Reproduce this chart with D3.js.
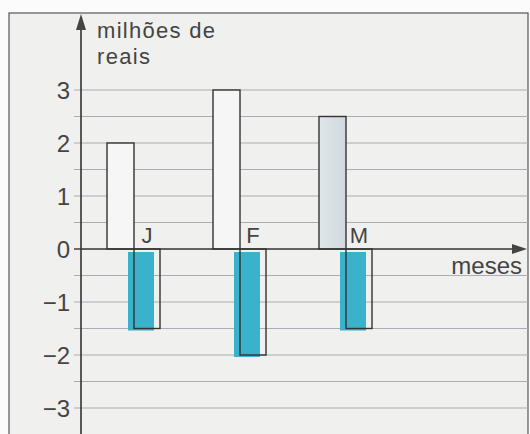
<!DOCTYPE html>
<html>
<head>
<meta charset="utf-8">
<script src="https://cdn.jsdelivr.net/npm/d3@7"></script>
<style>
  body { margin: 0; background: #fbfbfb; }
  text { font-family: "Liberation Sans", Arial, sans-serif; fill: #444; }
</style>
</head>
<body>
<script>
"use strict"

const months = ["J", "F", "M"];
const receitas = [2, 3, 2.5];
const despesas = [-1.5, -2, -1.5];
const tickValues = [-3, -2, -1, 0, 1, 2, 3];
const gridValues = [-3, -2.5, -2, -1.5, -1, -0.5, 0.5, 1, 1.5, 2, 2.5, 3];

const width = 530;
const height = 434;
const barWidth = 27;
const blueShift = 6;

const svg = d3.select("body").append("svg")
    .attr("width", width)
    .attr("height", height);

const defs = svg.append("defs");
const grad = defs.append("linearGradient").attr("id", "mgrad");
grad.append("stop").attr("offset", "0%").attr("stop-color", "#dfe6ea");
grad.append("stop").attr("offset", "100%").attr("stop-color", "#d2d9de");

// moldura
svg.append("rect")
    .attr("x", 9).attr("y", 13)
    .attr("width", 519).attr("height", 430)
    .attr("fill", "#f0f0ee")
    .attr("stroke", "#555")
    .attr("stroke-width", 1.2);

const y = d3.scaleLinear().domain([-3, 3]).range([408, 90]);
const x = d3.scalePoint().domain(months).range([134, 346]);
const axisX = 81;

// linhas de grade
svg.selectAll(".grid")
    .data(gridValues)
    .enter()
    .append("line")
        .attr("class", "grid")
        .attr("x1", axisX - 7)
        .attr("x2", 528)
        .attr("y1", d => y(d))
        .attr("y2", d => y(d))
        .attr("stroke", "#acacb4")
        .attr("stroke-width", 1);

// barras positivas
svg.selectAll(".pos")
    .data(months)
    .enter()
    .append("rect")
        .attr("class", "pos")
        .attr("x", d => x(d) - barWidth)
        .attr("y", (d, i) => y(receitas[i]))
        .attr("width", barWidth)
        .attr("height", (d, i) => y(0) - y(receitas[i]))
        .attr("fill", (d, i) => i == 2 ? "url(#mgrad)" : "#f6f6f6")
        .attr("stroke", "#333")
        .attr("stroke-width", 1.4);

// sombra azul das barras negativas
svg.selectAll(".blue")
    .data(months)
    .enter()
    .append("rect")
        .attr("class", "blue")
        .attr("x", d => x(d) - blueShift)
        .attr("y", y(0) + 3)
        .attr("width", barWidth - 1)
        .attr("height", (d, i) => y(despesas[i]) - y(0) - 1)
        .attr("fill", "#3ab2cc");

svg.selectAll(".neg")
    .data(months)
    .enter()
    .append("rect")
        .attr("class", "neg")
        .attr("x", d => x(d))
        .attr("y", y(0))
        .attr("width", barWidth - 1)
        .attr("height", (d, i) => y(despesas[i]) - y(0))
        .attr("fill", "none")
        .attr("stroke", "#333")
        .attr("stroke-width", 1.4);

// rótulos dos meses
svg.selectAll(".mes")
    .data(months)
    .enter()
    .append("text")
        .attr("class", "mes")
        .attr("x", d => x(d) + 13)
        .attr("y", y(0) - 6)
        .attr("text-anchor", "middle")
        .attr("font-size", "22px")
        .text(d => d);

// eixo y
svg.append("line")
    .attr("x1", axisX).attr("x2", axisX)
    .attr("y1", 28).attr("y2", height)
    .attr("stroke", "#333").attr("stroke-width", 1.6);
svg.append("path")
    .attr("d", `M${axisX},14 L${axisX - 5},30 L${axisX + 5},30 Z`)
    .attr("fill", "#444");

// eixo x
svg.append("line")
    .attr("x1", axisX).attr("x2", 514)
    .attr("y1", y(0)).attr("y2", y(0))
    .attr("stroke", "#333").attr("stroke-width", 1.6);
svg.append("path")
    .attr("d", `M527,${y(0)} L512,${y(0) - 5} L512,${y(0) + 5} Z`)
    .attr("fill", "#444");

svg.append("line")
    .attr("x1", axisX - 7).attr("x2", axisX)
    .attr("y1", y(0)).attr("y2", y(0))
    .attr("stroke", "#333").attr("stroke-width", 1.4);

svg.selectAll(".tick")
    .data(tickValues)
    .enter()
    .append("text")
        .attr("class", "tick")
        .attr("x", 70)
        .attr("y", d => y(d) + 9)
        .attr("text-anchor", "end")
        .attr("font-size", "24px")
        .text(d => d < 0 ? "\u2212" + Math.abs(d) : d);

svg.append("text")
    .attr("x", 97).attr("y", 38)
    .attr("font-size", "22px")
    .attr("letter-spacing", "1.3")
    .text("milhões de");
svg.append("text")
    .attr("x", 97).attr("y", 64)
    .attr("font-size", "22px")
    .attr("letter-spacing", "1.3")
    .text("reais");

svg.append("text")
    .attr("x", 522).attr("y", 274)
    .attr("text-anchor", "end")
    .attr("font-size", "24px")
    .text("meses");
</script>
</body>
</html>
